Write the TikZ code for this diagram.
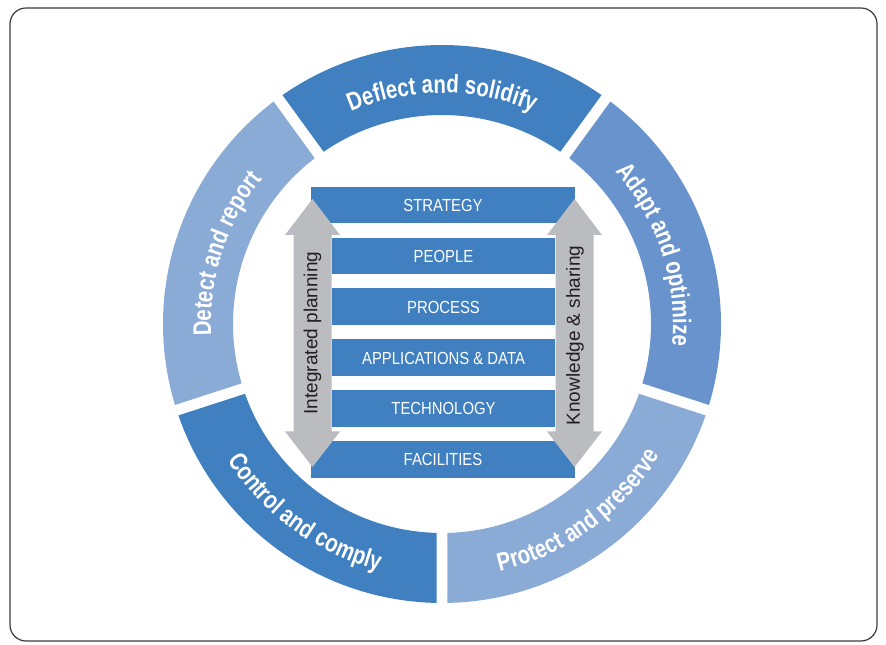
\documentclass[tikz,border=0pt]{standalone}
\usepackage{fontspec}
\setmainfont{Liberation Sans}
\newfontfamily\ringfont[FakeStretch=0.8]{Liberation Sans}
\newfontfamily\barfont[FakeStretch=0.85]{Liberation Sans}
\usetikzlibrary{decorations.text}
\definecolor{blueA}{RGB}{64,128,193}
\definecolor{blueL}{RGB}{139,171,215}
\definecolor{blueM}{RGB}{105,147,205}
\definecolor{arrgray}{RGB}{187,188,192}
\definecolor{txtdark}{RGB}{35,31,32}
\definecolor{frameclr}{RGB}{60,60,60}
\newcommand{\ringtxt}{\ringfont\bfseries\fontsize{25.5pt}{28pt}\selectfont}
\newcommand{\ringseg}[3]{%
  \fill[#1] (#2+\dO:279) arc[start angle=#2+\dO, end angle=#3-\dO, radius=279]
    -- (#3-\dI:209) arc[start angle=#3-\dI, end angle=#2+\dI, radius=209] -- cycle;}
\begin{document}
\begin{tikzpicture}[x=1pt,y=1pt,
  barbox/.style={fill=blueA, text=white, inner sep=0pt, minimum height=36.6pt,
    text height=12.8pt, text depth=0pt, font=\barfont\fontsize{17.5pt}{20pt}\selectfont},
  widebar/.style={barbox, minimum width=264pt},
  narrowbar/.style={barbox, minimum width=223pt},
  arrowfill/.style={fill=arrgray},
  arrowlabel/.style={rotate=90, text=txtdark, font=\fontsize{19pt}{22pt}\selectfont, inner sep=0pt},
  ringlabel/.style={decorate, decoration={text along path, text align=center,
    text color=white, text={|\ringtxt|#1}}}
]
\useasboundingbox (0,0) rectangle (886,645);
\draw[frameclr, line width=1.2pt, rounded corners=16pt] (10,4) rectangle (877,637);

\begin{scope}[shift={(442,321)}]
  \pgfmathsetmacro{\dO}{asin(5.5/279)}
  \pgfmathsetmacro{\dI}{asin(5.5/209)}
  \ringseg{blueA}{198}{270}
  \ringseg{blueL}{126}{198}
  \ringseg{blueA}{54}{126}
  \ringseg{blueM}{-18}{54}
  \ringseg{blueL}{270}{342}
  \path[ringlabel=Deflect and solidify] (126:231) arc[start angle=126, end angle=54, radius=231];
  \path[ringlabel=Detect and report] (198:231) arc[start angle=198, end angle=126, radius=231];
  \path[ringlabel=Adapt and optimize] (54:231) arc[start angle=54, end angle=-18, radius=231];
  \path[ringlabel=Control and comply] (198:254) arc[start angle=198, end angle=270, radius=254];
  \path[ringlabel=Protect and preserve] (270:254) arc[start angle=270, end angle=342, radius=254];
\end{scope}

\node[widebar] (strategy) at (443,440) {STRATEGY};
\node[narrowbar] (people) at (443.5,389.1) {PEOPLE};
\node[narrowbar] (process) at (443.5,338.2) {PROCESS};
\node[narrowbar] (appdata) at (443.5,287.3) {APPLICATIONS \& DATA};
\node[narrowbar] (technology) at (443.5,236.4) {TECHNOLOGY};
\node[widebar] (facilities) at (443,185.5) {FACILITIES};

\fill[arrowfill] (312.5,446) -- (340,410) -- (331.5,410) -- (331.5,213.5) -- (340,213.5)
  -- (312.5,178) -- (285,213.5) -- (293.5,213.5) -- (293.5,410) -- (285,410) -- cycle;
\fill[arrowfill] (574.5,446) -- (602,410) -- (593.5,410) -- (593.5,213.5) -- (602,213.5)
  -- (574.5,178) -- (547,213.5) -- (555.5,213.5) -- (555.5,410) -- (547,410) -- cycle;

\node[arrowlabel] (intplan) at (312.5,312) {Integrated planning};
\node[arrowlabel] (knowshare) at (575,309.5) {Knowledge \& sharing};
\end{tikzpicture}
\end{document}
